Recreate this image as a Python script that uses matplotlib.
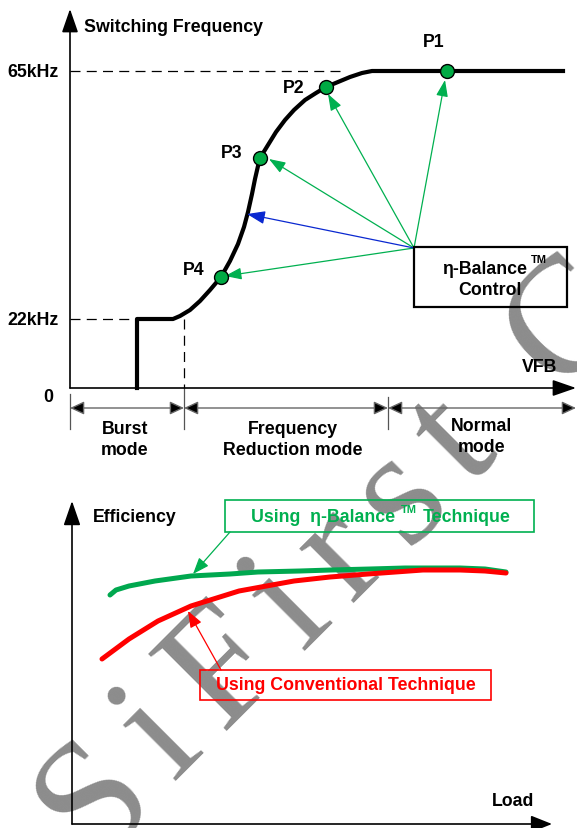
import matplotlib
matplotlib.use("Agg")
import numpy as np
import matplotlib.pyplot as plt
from matplotlib.patches import FancyArrowPatch, Rectangle

plt.rcParams['font.family'] = ['Liberation Sans', 'DejaVu Sans']
plt.rcParams['font.weight'] = 'bold'

W, H = 577, 829
GREEN = '#00b050'
RED = '#ff0000'
BLUE = '#0a28d0'
GREY = '#8c8c8c'

# === switching frequency vs VFB (picture coordinates) ===
freq_x = [137, 137, 173, 180, 190, 200, 210, 221, 230, 238, 244, 248, 252, 255,
          258, 260, 268, 276, 285, 294, 305, 316, 326, 338, 350, 362, 372, 563]
freq_y = [389, 320, 320, 317, 311, 302, 291, 278, 262, 245, 228, 213, 195, 180,
          167, 159, 146, 133, 121, 111, 101, 94, 88, 83, 78, 74, 72, 72]

op_names = ['P1', 'P2', 'P3', 'P4']
op_x = [447, 326, 260, 221]
op_y = [72, 88, 159, 278]
op_label_x = [434, 294, 232, 194]
op_label_y = [42, 88, 153, 270]

ctrl_origin = (414, 249)
tip_x = [445, 328, 269, 225]
tip_y = [81, 95, 160, 277]
blue_tip = (247, 215)

freq_tick_y = [72, 320]
freq_tick_labels = ['65kHz', '22kHz']
freq_dash_end = [344, 136]

mode_edges = [70, 184, 388, 576]
mode_names = ['Burst\nmode', 'Frequency\nReduction mode', 'Normal\nmode']
mode_label_x = [125, 293, 482]
mode_label_y = [440, 440, 437]

# === efficiency vs load ===
eff_new_x = [110, 116, 129, 155, 191, 230, 258, 300, 331, 370, 405, 440, 460, 485, 506]
eff_new_y = [596, 591, 587, 582, 577, 575, 573, 572, 571, 570, 569, 569, 569, 570, 573]
eff_old_x = [102, 129, 158, 191, 239, 294, 330, 368, 423, 460, 485, 506]
eff_old_y = [660, 640, 622, 607, 592, 582, 578, 575, 571, 571, 572, 574]

# watermark letters and their (Times) advance widths in em
wm_letters = ['S', 'i', 'F', 'i', 'r', 's', 't', ' ', 'C']
wm_widths = [0.556, 0.278, 0.556, 0.278, 0.333, 0.389, 0.278, 0.25, 0.667]

fig = plt.figure(figsize=(W / 100, H / 100), dpi=100)
ax = fig.add_axes([0, 0, 1, 1])
ax.set_xlim(0, W)
ax.set_ylim(H, 0)
ax.axis('off')


def arrow(p0, p1, color='k', lw=1.0, hl=10, hw=4, style='-|>', z=3, fc=None):
    a = FancyArrowPatch(p0, p1, arrowstyle=f'{style},head_length={hl},head_width={hw}',
                        mutation_scale=1, lw=lw, shrinkA=0, shrinkB=0, zorder=z,
                        edgecolor=color, facecolor=fc if fc else color)
    ax.add_patch(a)


# watermark, spread out along a diagonal
em = 167.0
track = 22.0
ang = 45
d = np.array([np.cos(np.radians(ang)), -np.sin(np.radians(ang))])
start = np.array([124, 829]) - d * (wm_widths[0] / 2 * em)
pos = 0.0
for ch, w in zip(wm_letters, wm_widths):
    c = start + d * (pos + w * em / 2)
    ax.text(c[0], c[1], ch, rotation=ang, rotation_mode='anchor', ha='center',
            va='baseline', fontsize=em * 0.72, family='Liberation Serif',
            weight='normal', color=GREY, zorder=1)
    pos += w * em + track

# --- top panel ---
arrow((70, 389), (70, 10), lw=1.2, hl=14.4, hw=5)
arrow((70, 389), (576, 389), lw=1.2, hl=14.4, hw=5)
ax.text(84, 27, 'Switching Frequency', fontsize=12.8, va='center', ha='left')
ax.text(540, 367, 'VFB', fontsize=12.8, va='center', ha='center')
ax.text(48, 397, '0', fontsize=12.8, va='center', ha='center')

for yv, lab, xe in zip(freq_tick_y, freq_tick_labels, freq_dash_end):
    ax.plot([70, xe], [yv, yv], color='k', lw=0.9, dashes=(8, 5), zorder=2)
    ax.text(59, yv, lab, fontsize=12.8, va='center', ha='right')
ax.plot([184, 184], [320, 389], color='k', lw=0.9, dashes=(8, 5), zorder=2)

ax.plot(freq_x, freq_y, color='k', lw=3, solid_joinstyle='round', zorder=4)

for tx, ty in zip(tip_x, tip_y):
    arrow(ctrl_origin, (tx, ty), color=GREEN, lw=0.9, hl=10, hw=3.6, z=5)
arrow(ctrl_origin, blue_tip, color=BLUE, lw=0.9, hl=11, hw=4, z=5)

ax.plot(op_x, op_y, 'o', ms=10, mfc='#00aa44', mec='k', mew=1, zorder=6)
for n, lx, ly in zip(op_names, op_label_x, op_label_y):
    ax.text(lx, ly, n, fontsize=12.8, va='center', ha='center')

ax.add_patch(Rectangle((414, 248), 153, 60, fill=False, ec='k', lw=1.6, zorder=5))
ax.text(527, 269, 'η-Balance', fontsize=12.8, va='center', ha='right', zorder=6)
ax.text(531, 260, 'TM', fontsize=8, va='center', ha='left', zorder=6)
ax.text(490, 290, 'Control', fontsize=12.8, va='center', ha='center', zorder=6)

# operation modes
for xe, y0 in zip(mode_edges[:3], [395, 389, 398]):
    ax.plot([xe, xe], [y0, 430], color='#555555', lw=0.9, zorder=2)
for a, b in zip(mode_edges[:-1], mode_edges[1:]):
    arrow((a, 409), (b, 409), color='#666666', fc='k', lw=1.0, hl=8.6, hw=4, style='<|-|>')
for n, lx, ly in zip(mode_names, mode_label_x, mode_label_y):
    ax.text(lx, ly, n, fontsize=12.8, va='center', ha='center', linespacing=1.35, zorder=6)

# --- bottom panel ---
arrow((72, 825), (72, 502), lw=1.2, hl=15, hw=5.2)
arrow((72, 825), (552, 825), lw=1.2, hl=13, hw=5.2)
ax.text(93, 517, 'Efficiency', fontsize=12.8, va='center', ha='left')
ax.text(534, 802, 'Load', fontsize=12.8, va='center', ha='right')

ax.plot(eff_new_x, eff_new_y, color='#00a84f', lw=3.6, solid_capstyle='round', zorder=4)
ax.plot(eff_old_x, eff_old_y, color=RED, lw=3.6, solid_capstyle='round', zorder=4)

ax.add_patch(Rectangle((225, 501), 309, 32, fill=False, ec=GREEN, lw=1.2, zorder=5))
ax.text(395, 517, 'Using  η-Balance', fontsize=12.8, va='center', ha='right', color=GREEN, zorder=6)
ax.text(401, 510, 'TM', fontsize=8, va='center', ha='left', color=GREEN, zorder=6)
ax.text(423, 517, 'Technique', fontsize=12.8, va='center', ha='left', color=GREEN, zorder=6)
arrow((230, 533), (193, 575), color=GREEN, lw=0.9, hl=10, hw=3.8, z=5)

ax.add_patch(Rectangle((200, 671), 291, 30, fill=False, ec=RED, lw=1.2, zorder=5))
ax.text(346, 686, 'Using Conventional Technique', fontsize=12.8, va='center', ha='center',
        color=RED, zorder=6)
arrow((221, 671), (188, 612), color=RED, lw=0.9, hl=10, hw=3.8, z=5)

fig.savefig('out.png', dpi=100)
